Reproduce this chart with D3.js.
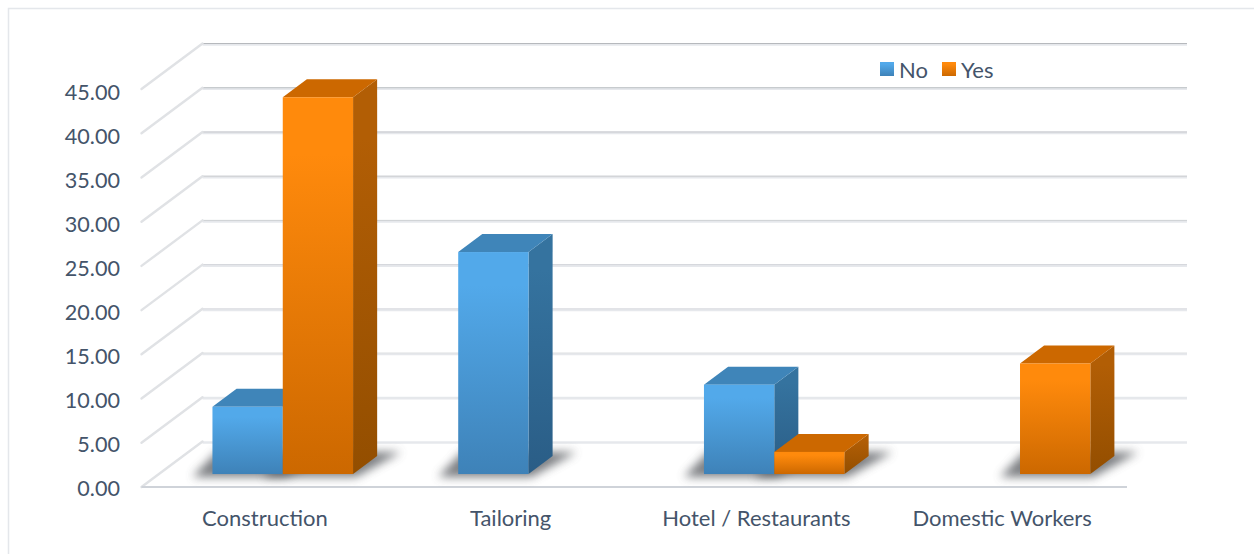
<!DOCTYPE html>
<html>
<head>
<meta charset="utf-8">
<script src="https://cdnjs.cloudflare.com/ajax/libs/d3/7.8.5/d3.min.js"></script>
<style>
html,body{margin:0;padding:0;background:#fff;}
svg{display:block;}
text{font-family:Lato,"Open Sans",sans-serif;fill:#44546a;font-size:22px;}
text.tick{font-size:21.6px;}
</style>
</head>
<body>
<svg id="chart" width="1254" height="554"></svg>
<script>
const categories = ["Construction", "Tailoring", "Hotel / Restaurants", "Domestic Workers"];
const seriesNames = ["No", "Yes"];
const noValues = [7.6, 25.1, 10.1, null];
const yesValues = [42.6, null, 2.5, 12.5];
const valueTicks = [0, 5, 10, 15, 20, 25, 30, 35, 40, 45];

const palette = {
  No:  {top:"#52a9ea", bottom:"#3e82b8", cap:"#3f85b9", sideTop:"#35739f", sideBottom:"#2a5d86"},
  Yes: {top:"#ff8a0c", bottom:"#cc6800", cap:"#cc6800", sideTop:"#b25e05", sideBottom:"#934e00"}
};

const svg = d3.select("#chart");
const defs = svg.append("defs");

// Scales: category and value on the front plane, depth runs back into the chart
const x = d3.scaleBand().domain(categories).range([142.5, 1125.5]);
const y = d3.scaleLinear().domain([0, 45]).range([487, 89]);
const labelY = d3.scaleLinear().domain([0, 45]).range([496, 100]);
const depthX = d3.scaleLinear().domain([0, 1]).range([0, 61]);
const depthY = d3.scaleLinear().domain([0, 1]).range([0, -45.5]);
const barFront = 0.285, barBack = 0.68;
const barWidth = 70.3;
const wallRight = 1187;
const plotLeft = 141.5;

const poly = pts => pts.map(p => p.join(",")).join(" ");

// Chart frame
svg.append("path")
  .attr("d", "M8.5,554V8.5H1254")
  .attr("fill", "none").attr("stroke", "#e4e7eb").attr("stroke-width", 1.5);

// Gradients for the bar faces and legend keys
seriesNames.forEach(name => {
  const c = palette[name];
  [["front", c.top, c.bottom], ["side", c.sideTop, c.sideBottom]].forEach(([part, a, b]) => {
    const g = defs.append("linearGradient")
      .attr("id", `${part}-${name}`)
      .attr("x1", 0).attr("y1", 0).attr("x2", 0).attr("y2", 1);
    g.append("stop").attr("offset", "0%").attr("stop-color", a);
    g.append("stop").attr("offset", "15%").attr("stop-color", a);
    g.append("stop").attr("offset", "100%").attr("stop-color", b);
  });
});
defs.append("filter").attr("id", "soft")
  .attr("x", "-30%").attr("y", "-80%").attr("width", "160%").attr("height", "260%")
  .append("feGaussianBlur").attr("stdDeviation", 4.6);

// Wall gridlines: the shaded edge fades out towards the floor
const edgeColour = d3.scaleLinear().domain([0, 45]).range(["#eceef1", "#b6b9bd"]);
const grid = svg.append("g");
valueTicks.forEach(v => {
  const front = y(v);
  const bx = plotLeft + depthX(1);
  const by = front + depthY(1);
  grid.append("line").attr("x1", bx).attr("x2", wallRight).attr("y1", by + 1).attr("y2", by + 1)
    .attr("stroke", "#e6e8ec").attr("stroke-width", 2.6);
  grid.append("line").attr("x1", bx).attr("x2", wallRight).attr("y1", by).attr("y2", by)
    .attr("stroke", edgeColour(v)).attr("stroke-width", 1);
  grid.append("line").attr("x1", plotLeft).attr("y1", front).attr("x2", bx).attr("y2", by)
    .attr("stroke", "#e0e2e5").attr("stroke-width", 2.4).attr("stroke-linecap", "round");
});
// Front edge of the floor
grid.append("line").attr("x1", plotLeft).attr("x2", 1127).attr("y1", y(0)).attr("y2", y(0))
  .attr("stroke", "#cfd3d9").attr("stroke-width", 1.8);

const rows = categories.flatMap((c, i) => [
  {category: c, series: "No", value: noValues[i], offset: -barWidth},
  {category: c, series: "Yes", value: yesValues[i], offset: 0}
]).filter(d => d.value !== null);

const barX = d => x(d.category) + x.bandwidth() / 2 + depthX(barFront) + d.offset;
const base = y(0);
const frontY = base + depthY(barFront);
const dx = depthX(barBack - barFront);
const dy = depthY(barBack - barFront);

// Floor shadows cast behind and to either side of each bar
const shadows = svg.append("g");
rows.forEach(d => {
  const l = barX(d), r = l + barWidth;
  shadows.append("polygon")
    .attr("points", poly([[l - 20, frontY + 3], [r + 3, frontY + 3], [r + dx + 24, frontY - 22], [l + 4, frontY - 22]]))
    .attr("fill", "#5c5f63").attr("opacity", 0.8).attr("filter", "url(#soft)");
});

// Bars, drawn category by category so neighbours overlap correctly
const bars = svg.append("g");
rows.forEach(d => {
  const l = barX(d), r = l + barWidth;
  const topY = y(d.value) + depthY(barFront);
  const g = bars.append("g");
  g.append("polygon").attr("points", poly([[r, topY], [r + dx, topY + dy], [r + dx, frontY + dy], [r, frontY]]))
    .attr("fill", `url(#side-${d.series})`);
  g.append("polygon").attr("points", poly([[l, topY], [l + dx, topY + dy], [r + dx, topY + dy], [r, topY]]))
    .attr("fill", palette[d.series].cap);
  g.append("rect").attr("x", l).attr("y", topY).attr("width", barWidth).attr("height", frontY - topY)
    .attr("fill", `url(#front-${d.series})`);
});

// Value axis labels
svg.append("g").selectAll("text")
  .data(valueTicks)
  .join("text")
  .attr("class", "tick")
  .attr("x", 120).attr("y", d => labelY(d))
  .attr("text-anchor", "end")
  .text(d => d3.format(".2f")(d));

// Category labels
svg.append("g").selectAll("text")
  .data(categories)
  .join("text")
  .attr("x", d => x(d) + x.bandwidth() / 2 - 0.5)
  .attr("y", 526)
  .attr("text-anchor", "middle")
  .text(d => d);

// Legend
const legendX = {No: 880, Yes: 942};
const legend = svg.append("g");
seriesNames.forEach(name => {
  legend.append("rect").attr("x", legendX[name]).attr("y", 62).attr("width", 14).attr("height", 14)
    .attr("fill", `url(#front-${name})`);
  legend.append("text").attr("x", legendX[name] + 19).attr("y", 78).text(name);
});
</script>
</body>
</html>
